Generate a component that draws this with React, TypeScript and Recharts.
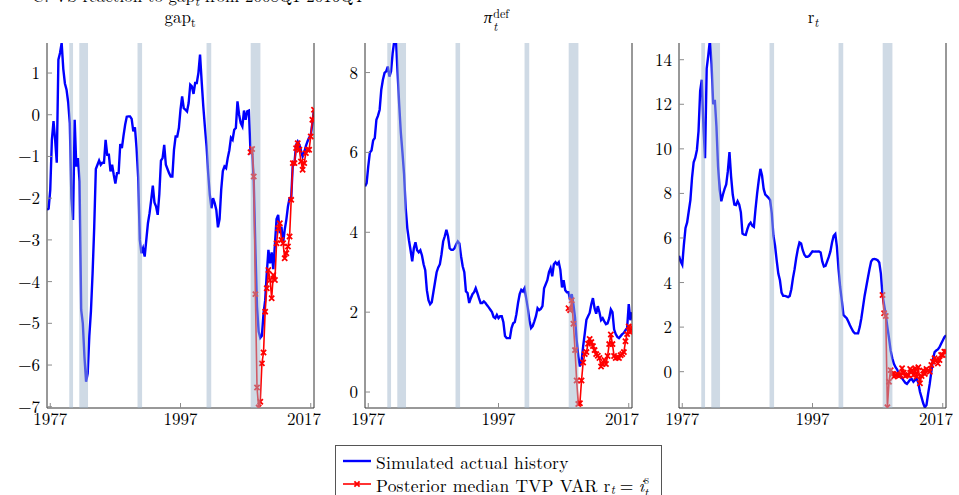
import React from "react";
import { Line, LineChart, ReferenceArea, XAxis, YAxis } from "recharts";

// quarterly sample, first observation 1976.5, last 2017.5
const firstQuarter = 1976.5;
const tvpStart = 125; // index of 2007.75, where the TVP VAR path begins

const gapHistory = [
  -2.28, -2.25, -1.8, -0.6, -0.15, -0.6, -1.15, 1.32, 1.48, 1.72,
  1.1, 0.75, 0.6, 0.3, -0.2, -2.0, -2.52, -0.12, -1.24, -1.04,
  -1.6, -4.68, -5.0, -5.8, -6.4, -6.2, -5.3, -4.7, -3.8, -2.7,
  -1.3, -1.2, -1.1, -1.2, -1.15, -1.15, -0.6, -0.96, -0.96, -1.36,
  -1.2, -1.44, -1.65, -1.4, -1.4, -0.7, -0.8, -0.5, -0.24, -0.05,
  -0.04, -0.04, -0.1, -0.4, -0.3, -0.8, -1.5, -3.0, -3.32, -3.2,
  -3.4, -3.0, -2.6, -2.36, -2.04, -1.7, -2.1, -2.2, -2.4, -1.9,
  -1.1, -1.04, -0.72, -1.2, -1.3, -1.4, -1.48, -1.48, -0.84, -0.52,
  -0.52, -0.32, 0.12, 0.44, 0.16, 0.12, 0.08, 0.28, 0.72, 0.68,
  0.5, 0.76, 0.76, 1.0, 1.44, 0.8, 0.2, -0.3, -0.75, -1.4,
  -1.92, -2.24, -2.0, -2.12, -2.28, -2.7, -2.5, -1.8, -1.35, -1.24,
  -1.28, -1.04, -0.85, -0.55, -0.6, -0.36, -0.32, 0.32, 0.0, -0.2,
  -0.28, 0.1, -0.12, 0.08, 0.1, -0.9, -0.85, -1.6, -3.2, -4.6,
  -5.2, -5.35, -5.3, -4.76, -4.45, -3.8, -3.24, -3.56, -3.3, -3.7,
  -3.1, -2.5, -2.4, -2.84, -2.68, -3.08, -2.76, -2.52, -2.2, -2.0,
  -2.0, -1.16, -1.16, -0.72, -0.64, -0.72, -0.86, -1.0, -0.9, -0.75,
  -0.64, -0.55, -0.5, -0.2, 0.12,
];

const inflHistory = [
  5.15, 5.23, 5.65, 6.0, 6.05, 6.3, 6.36, 6.82, 6.92, 7.07,
  7.57, 7.82, 7.99, 8.03, 8.15, 7.9, 8.03, 8.49, 8.8, 8.85,
  8.0, 7.2, 6.5, 6.0, 5.45, 4.6, 4.1, 3.8, 3.55, 3.27,
  3.6, 3.75, 3.55, 3.5, 3.55, 3.42, 3.2, 3.05, 2.55, 2.3,
  2.2, 2.25, 2.5, 2.75, 3.0, 3.12, 3.2, 3.45, 3.77, 3.9,
  4.06, 3.9, 3.6, 3.56, 3.56, 3.6, 3.7, 3.77, 3.72, 3.4,
  3.15, 3.0, 2.52, 2.48, 2.23, 2.35, 2.45, 2.5, 2.6, 2.48,
  2.35, 2.23, 2.23, 2.27, 2.23, 2.17, 2.12, 2.06, 2.0, 1.88,
  1.85, 1.93, 1.85, 1.9, 1.9, 1.75, 1.4, 1.35, 1.35, 1.35,
  1.6, 1.72, 1.75, 1.95, 2.23, 2.45, 2.56, 2.52, 2.6, 2.35,
  2.1, 1.8, 1.6, 1.65, 1.77, 1.9, 2.1, 2.05, 2.08, 2.15,
  2.6, 2.7, 2.8, 3.0, 3.1, 2.9, 3.2, 3.25, 3.2, 3.25,
  3.06, 2.62, 2.8, 2.55, 2.5, 2.5, 2.3, 2.45, 2.2, 1.87,
  1.3, 0.9, 0.64, 0.77, 1.15, 1.47, 1.81, 1.9, 1.98, 2.2,
  2.35, 2.1, 1.96, 2.15, 2.0, 1.8, 1.85, 1.77, 1.7, 1.72,
  1.85, 2.07, 2.0, 1.57, 1.45, 1.38, 1.35, 1.4, 1.45, 1.48,
  1.55, 1.6, 2.2, 1.8, 2.0,
];

const rateHistory = [
  5.2, 4.95, 4.8, 5.7, 6.45, 6.7, 7.2, 7.7, 8.7, 9.4,
  9.6, 9.95, 10.8, 12.6, 13.1, 11.0, 9.58, 13.6, 14.2, 14.9,
  13.8, 12.0, 12.2, 11.0, 9.2, 8.16, 7.65, 7.95, 8.2, 8.4,
  9.0, 9.85, 8.75, 7.95, 7.5, 7.48, 7.65, 7.5, 7.15, 6.2,
  6.15, 6.14, 6.4, 6.6, 6.69, 6.55, 6.5, 7.3, 8.0, 8.6,
  9.1, 8.8, 8.2, 7.95, 7.88, 7.8, 7.7, 7.1, 6.1, 5.65,
  5.0, 4.4, 4.1, 3.55, 3.4, 3.4, 3.38, 3.35, 3.4, 3.7,
  4.2, 4.6, 5.1, 5.5, 5.8, 5.75, 5.45, 5.25, 5.16, 5.16,
  5.2, 5.3, 5.4, 5.39, 5.4, 5.39, 5.39, 5.35, 4.95, 4.72,
  4.75, 4.95, 5.15, 5.4, 5.8, 6.1, 6.18, 5.6, 4.6, 3.8,
  3.2, 2.55, 2.47, 2.4, 2.25, 2.08, 1.94, 1.8, 1.72, 1.72,
  1.72, 2.0, 2.4, 2.9, 3.4, 3.8, 4.2, 4.6, 4.94, 5.04,
  5.06, 5.04, 5.0, 4.9, 4.4, 3.44, 3.0, 2.55, 2.0, 1.5,
  0.95, 0.6, 0.35, 0.2, 0.1, -0.1, -0.2, -0.3, -0.4, -0.5,
  -0.55, -0.45, -0.35, -0.33, -0.45, -0.37, -0.32, -0.5, -0.9, -1.15,
  -1.42, -1.6, -1.5, -1.0, -0.55, 0.0, 0.55, 0.88, 0.95, 1.0,
  1.1, 1.25, 1.4, 1.55, 1.63,
];

const gapTvp = [
  -0.9, -0.82, -1.48, -4.3, -6.54, -7.02, -6.88, -5.96, -5.7, -4.72,
  -4.16, -3.72, -3.96, -4.4, -3.84, -3.96, -3.08, -2.72, -2.6, -3.0,
  -3.08, -3.44, -3.32, -3.16, -2.92, -2.04, -1.16, -1.16, -0.8, -0.68,
  -0.84, -1.12, -1.32, -1.16, -0.92, -0.84, -0.84, -0.52, -0.12, 0.12,
];

const inflTvp = [
  2.1, 2.05, 2.3, 1.71, 1.05, 0.29, -0.3, -0.28, 0.29, 0.74,
  0.95, 1.0, 1.21, 1.33, 1.25, 1.15, 1.05, 0.95, 0.91, 0.85,
  0.64, 0.7, 0.8, 0.7, 0.9, 1.2, 1.44, 1.2, 0.9, 0.85,
  0.87, 0.85, 0.92, 0.95, 1.0, 1.27, 1.45, 1.64, 1.5, 1.62,
];

const rateTvp = [
  3.44, 2.62, 2.5, -1.6, -0.45, 0.07, -0.1, -0.22, -0.15, -0.1,
  -0.2, -0.15, 0.15, -0.05, -0.2, -0.15, -0.15, 0.12, 0.05, -0.15,
  0.15, -0.22, 0.2, -0.52, -0.2, 0.05, -0.1, 0.12, 0.05, 0.0,
  0.3, 0.45, 0.6, 0.52, 0.37, 0.52, 0.75, 0.75, 0.9, 0.9,
];

// NBER recessions
const recessions = [
  [1979.92, 1980.5],
  [1981.46, 1982.8],
  [1990.4, 1991.1],
  [2001.0, 2001.72],
  [2007.78, 2009.27],
];

const yearTicks = [1977, 1997, 2017];
const gapTicks = [-7, -6, -5, -4, -3, -2, -1, 0, 1];
const inflTicks = [0, 2, 4, 6, 8];
const rateTicks = [0, 2, 4, 6, 8, 10, 12, 14];

const FONT = "'Latin Modern Roman', 'Liberation Serif', serif";
const BLUE = "#0000ff";
const RED = "#ff0000";
const FRAME = "#333";
const TICK = "#8c8c8c";

const fmt = (v: number) => (v < 0 ? `\u2212${Math.abs(v)}` : `${v}`);

function Cross(props: any) {
  const { cx, cy } = props;
  if (cx == null || cy == null || Number.isNaN(cy)) return null;
  const s = 2.6;
  return (
    <path
      d={`M${cx - s},${cy - s}L${cx + s},${cy + s}M${cx - s},${cy + s}L${cx + s},${cy - s}`}
      stroke={RED}
      strokeWidth={1.8}
      fill="none"
    />
  );
}

function Panel({ left, hist, tvp, domain, ticks }: { left: number; hist: number[]; tvp: number[]; domain: [number, number]; ticks: number[] }) {
  const rows = hist.map((v, i) => ({
    t: firstQuarter + i / 4,
    hist: v,
    tvp: i >= tvpStart ? tvp[i - tvpStart] : null,
  }));
  const tickStyle = { fontFamily: FONT, fontSize: 17, fill: "#000" };
  return (
    <div style={{ position: "absolute", left, top: 0 }}>
      <LineChart width={320} height={440} data={rows} margin={{ top: 43, right: 0, bottom: 2, left: 0 }}>
        <XAxis
          dataKey="t"
          type="number"
          domain={[1976.5, 2017.5]}
          ticks={yearTicks}
          allowDataOverflow
          height={30}
          tickSize={-5}
          tickMargin={10}
          axisLine={{ stroke: FRAME }}
          tickLine={{ stroke: TICK }}
          tick={tickStyle}
        />
        <XAxis
          xAxisId="top"
          orientation="top"
          dataKey="t"
          type="number"
          domain={[1976.5, 2017.5]}
          ticks={yearTicks}
          allowDataOverflow
          height={0}
          tickSize={-5}
          tick={false}
          axisLine={{ stroke: FRAME }}
          tickLine={{ stroke: TICK }}
        />
        <YAxis
          type="number"
          domain={domain}
          ticks={ticks}
          allowDataOverflow
          width={46}
          tickSize={-5}
          tickMargin={12}
          tickFormatter={fmt}
          axisLine={{ stroke: FRAME }}
          tickLine={{ stroke: TICK }}
          tick={tickStyle}
        />
        <YAxis
          yAxisId="right"
          orientation="right"
          type="number"
          domain={domain}
          ticks={ticks}
          allowDataOverflow
          width={7}
          tickSize={-5}
          tick={false}
          axisLine={{ stroke: FRAME }}
          tickLine={{ stroke: TICK }}
        />
        <Line dataKey="hist" stroke={BLUE} strokeWidth={2.4} dot={false} isAnimationActive={false} />
        <Line dataKey="tvp" stroke={RED} strokeWidth={1.6} dot={<Cross />} isAnimationActive={false} />
        {/* recession bands sit over the paths, so lines look washed out inside them */}
        {recessions.map(([a, b]) => (
          <ReferenceArea
            key={a}
            x1={a}
            x2={b}
            fill="#9fb5cc"
            fillOpacity={0.5}
            stroke="none"
            ifOverflow="hidden"
            {...({ zIndex: 1000 } as any)}
          />
        ))}
      </LineChart>
    </div>
  );
}

const sub = { fontSize: 12, position: "relative" as const, top: 4 };

function Title({ center, children }: { center: number; children: React.ReactNode }) {
  return (
    <div style={{ position: "absolute", left: center - 60, width: 120, top: 8, textAlign: "center", fontFamily: FONT, fontSize: 17, lineHeight: "17px" }}>
      {children}
    </div>
  );
}

export default function App() {
  return (
    <div style={{ position: "relative", width: 959, height: 495, overflow: "hidden", background: "#fff", fontFamily: FONT }}>
      <style>{"body{margin:0}"}</style>
      <div style={{ position: "absolute", right: 959 - 362, top: -13, whiteSpace: "nowrap", fontSize: 17, lineHeight: "17px" }}>
        C: VS reaction to gap<i style={sub}>t</i> from 2008Q1-2016Q4
      </div>
      <Title center={180}>
        gap<span style={sub}>t</span>
      </Title>
      <Title center={499}>
        <i>π</i>
        <span style={{ position: "relative", display: "inline-block", width: 22, height: 10 }}>
          <span style={{ position: "absolute", left: 1, top: -9, fontSize: 12 }}>def</span>
          <i style={{ position: "absolute", left: 1, top: 4, fontSize: 12 }}>t</i>
        </span>
      </Title>
      <Title center={813}>
        r<i style={sub}>t</i>
      </Title>
      <Panel left={1} hist={gapHistory} tvp={gapTvp} domain={[-7.03, 1.72]} ticks={gapTicks} />
      <Panel left={319} hist={inflHistory} tvp={inflTvp} domain={[-0.4, 8.74]} ticks={inflTicks} />
      <Panel left={633} hist={rateHistory} tvp={rateTvp} domain={[-1.63, 14.75]} ticks={rateTicks} />
      <div
        style={{
          position: "absolute",
          left: 335,
          top: 445,
          width: 327,
          height: 52,
          border: "1px solid #555",
          boxSizing: "border-box",
          background: "#fff",
          fontSize: 17.5,
          letterSpacing: 0.2,
        }}
      >
        <div style={{ position: "absolute", left: 6, top: 4, display: "flex", alignItems: "center", height: 22, whiteSpace: "nowrap" }}>
          <svg width={30} height={10} style={{ marginRight: 4 }}>
            <line x1={1} y1={5} x2={29} y2={5} stroke={BLUE} strokeWidth={2.4} />
          </svg>
          Simulated actual history
        </div>
        <div style={{ position: "absolute", left: 6, top: 27, display: "flex", alignItems: "center", height: 22, whiteSpace: "nowrap" }}>
          <svg width={30} height={10} style={{ marginRight: 4 }}>
            <line x1={1} y1={5} x2={29} y2={5} stroke={RED} strokeWidth={1.6} />
            <Cross cx={15} cy={5} />
          </svg>
          Posterior median TVP VAR r<i style={sub}>t</i>
          <span style={{ margin: "0 5px" }}>=</span>
          <i>i</i>
          <span style={{ position: "relative", display: "inline-block", width: 8, height: 10 }}>
            <span style={{ position: "absolute", left: 0, top: -9, fontSize: 12 }}>s</span>
            <i style={{ position: "absolute", left: 0, top: 4, fontSize: 12 }}>t</i>
          </span>
        </div>
      </div>
    </div>
  );
}
